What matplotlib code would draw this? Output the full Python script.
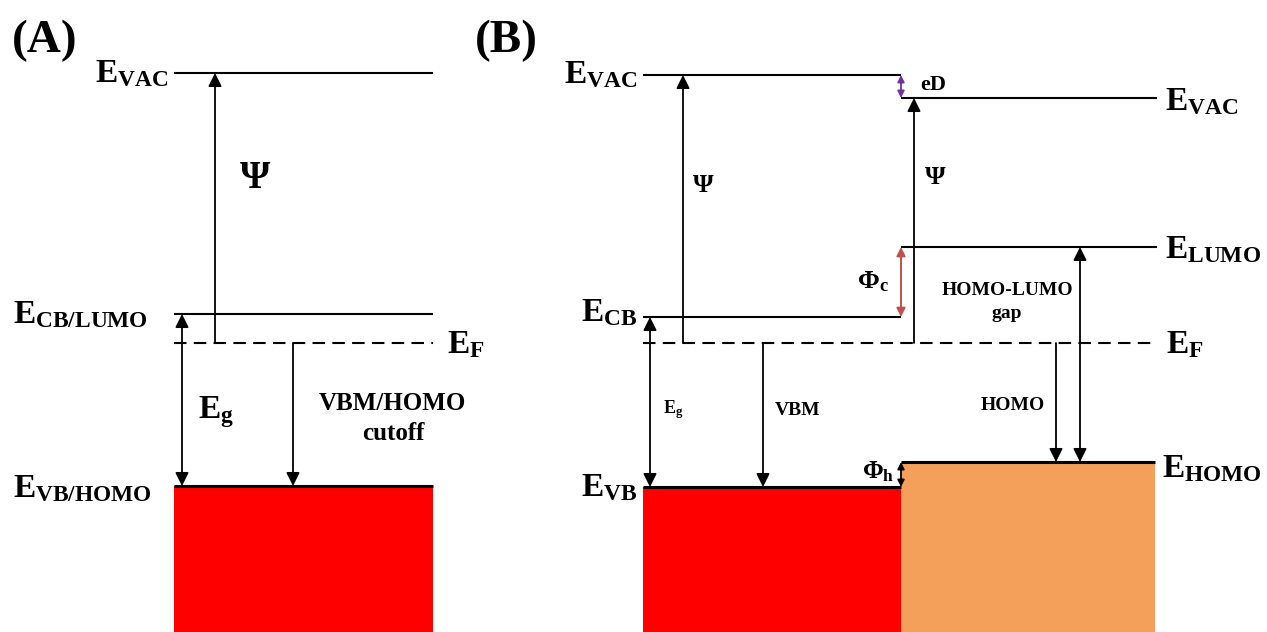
import matplotlib
matplotlib.use('Agg')
import matplotlib.pyplot as plt
from matplotlib.patches import Rectangle

plt.rcParams['font.family'] = ['Liberation Serif', 'DejaVu Serif']
plt.rcParams['font.weight'] = 'bold'
plt.rcParams['mathtext.fontset'] = 'custom'
plt.rcParams['mathtext.rm'] = 'Liberation Serif:bold'
plt.rcParams['mathtext.bf'] = 'Liberation Serif:bold'
plt.rcParams['mathtext.it'] = 'Liberation Serif:bold'
plt.rcParams['mathtext.sf'] = 'Liberation Serif'
plt.rcParams['mathtext.default'] = 'rm'

# energy levels, given as y position in the picture (pixels from the top)
a_levels = [73, 314, 343, 486]          # VAC, CB/LUMO, F, VB/HOMO
a_names = ['VAC', 'CB/LUMO', 'F', 'VB/HOMO']
a_span = [174, 433]

b_left_levels = [75, 317, 487]          # VAC, CB, VB (semiconductor)
b_left_names = ['VAC', 'CB', 'VB']
b_right_levels = [98, 247, 462]         # VAC, LUMO, HOMO (molecule)
b_right_names = ['VAC', 'LUMO', 'HOMO']
b_fermi = 343
b_span = [643, 901, 1157]

bottom = 632
red = '#FF0000'
orange = '#F5A05A'

fig = plt.figure(figsize=(12.67, 6.32), dpi=100)
ax = fig.add_axes([0, 0, 1, 1])
ax.set_xlim(0, 1267)
ax.set_ylim(bottom, 0)
ax.axis('off')


def level(x0, x1, y, lw=1.5, ls='-'):
    ax.plot([x0, x1], [y, y], color='black', lw=lw, ls=ls,
            solid_capstyle='butt', zorder=3)


def arrow(x, y0, y1, style='-|>', color='black', ms=20, lw=1.3):
    ax.annotate('', xy=(x, y1), xytext=(x, y0),
                arrowprops=dict(arrowstyle=style, color=color, lw=lw,
                                mutation_scale=ms, shrinkA=0, shrinkB=0),
                zorder=4)


def elabel(x, y, sub, ha, size=24):
    ax.text(x, y, r'$E_{%s}$' % sub, fontsize=size, ha=ha, va='baseline')


# ---------------- panel A ----------------
ax.text(12, 52, '(A)', fontsize=34, ha='left', va='baseline')
vac, cb, ef, vb = a_levels
ax.add_patch(Rectangle((a_span[0], vb), a_span[1] - a_span[0], bottom - vb,
                       color=red, lw=0, zorder=1))
level(a_span[0], a_span[1], vac)
level(a_span[0], a_span[1], cb)
level(a_span[0], a_span[1], ef, ls=(0, (6, 3.5)))
level(a_span[0], a_span[1], vb, lw=2.2)

elabel(168, 82, a_names[0], 'right')
elabel(148, 323, a_names[1], 'right')
elabel(447, 353, a_names[2], 'left')
elabel(152, 497, a_names[3], 'right')

arrow(215, ef, vac)
arrow(182, vb, cb, style='<|-|>')
arrow(293, ef, vb)
ax.text(255, 178, 'Ψ', fontsize=28, ha='center', va='center')
ax.text(198, 418, r'$E_g$', fontsize=24, ha='left', va='baseline')
ax.text(392, 410, 'VBM/HOMO', fontsize=18, ha='center', va='baseline')
ax.text(393, 440, 'cutoff', fontsize=18, ha='center', va='baseline')

# ---------------- panel B ----------------
ax.text(475, 52, '(B)', fontsize=34, ha='left', va='baseline')
l_vac, l_cb, l_vb = b_left_levels
r_vac, r_lumo, r_homo = b_right_levels
x0, xm, x1 = b_span

ax.add_patch(Rectangle((x0, l_vb), xm - x0, bottom - l_vb,
                       color=red, lw=0, zorder=1))
ax.add_patch(Rectangle((xm, r_homo), x1 - 2 - xm, bottom - r_homo,
                       color=orange, lw=0, zorder=1))
level(x0, xm, l_vac)
level(x0, xm, l_cb)
level(x0, xm, l_vb, lw=2.2)
level(xm, x1, r_vac)
level(xm, x1, r_lumo)
level(xm, x1 - 2, r_homo, lw=2.2)
level(x0, x1, b_fermi, ls=(0, (6, 3.5)))

elabel(637, 83, b_left_names[0], 'right')
elabel(637, 321, b_left_names[1], 'right')
elabel(637, 496, b_left_names[2], 'right')
elabel(1165, 110, b_right_names[0], 'left')
elabel(1165, 258, b_right_names[1], 'left')
elabel(1166, 353, 'F', 'left')
elabel(1162, 477, b_right_names[2], 'left')

arrow(683, b_fermi, l_vac)
arrow(914, b_fermi, r_vac)
arrow(xm, l_vac, r_vac, style='<|-|>', color='#7030A0', ms=10, lw=1.3)
arrow(xm, r_lumo, l_cb, style='<|-|>', color='#C0504D', ms=13, lw=1.4)
arrow(650, l_vb, l_cb, style='<|-|>')
arrow(763, b_fermi, l_vb)
arrow(1056, b_fermi, r_homo)
arrow(1080, r_homo, r_lumo, style='<|-|>')
arrow(xm, r_homo, l_vb, style='<|-|>', ms=10, lw=1.3)

ax.text(703, 186, 'Ψ', fontsize=19, ha='center', va='center')
ax.text(935, 178, 'Ψ', fontsize=19, ha='center', va='center')
ax.text(920, 90, 'eD', fontsize=16, ha='left', va='baseline')
ax.text(857, 288, r'$\Phi_c$', fontsize=19, ha='left', va='baseline')
ax.text(1007, 295, 'HOMO-LUMO', fontsize=14, ha='center', va='baseline')
ax.text(1007, 318, 'gap', fontsize=14, ha='center', va='baseline')
ax.text(1013, 410, 'HOMO', fontsize=14, ha='center', va='baseline')
ax.text(798, 415, 'VBM', fontsize=14, ha='center', va='baseline')
ax.text(663, 413, r'$\mathsf{E_g}$', fontsize=13, ha='left', va='baseline')
ax.text(862, 478, r'$\Phi_h$', fontsize=18, ha='left', va='baseline')

fig.savefig('out.png', dpi=100)
